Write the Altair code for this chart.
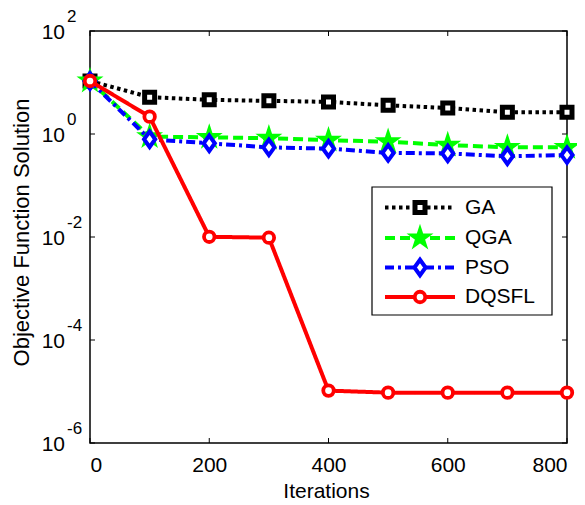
import altair as alt
import pandas as pd

# ---- data ----
iterations = [0, 100, 200, 300, 400, 500, 600, 700, 800]
ga = [10.7, 5.2, 4.6, 4.4, 4.2, 3.6, 3.2, 2.64, 2.64]
qga = [10.7, 0.89, 0.86, 0.83, 0.76, 0.71, 0.61, 0.55, 0.55]
pso = [10.7, 0.79, 0.66, 0.55, 0.52, 0.43, 0.42, 0.37, 0.39]
dqsfl = [10.7, 2.17, 0.0101, 0.0097, 1.04e-5, 9.5e-6, 9.5e-6, 9.5e-6, 9.5e-6]
series_names = ["GA", "QGA", "PSO", "DQSFL"]
x_ticks = [0, 200, 400, 600, 800]
y_decades = [1e2, 1e0, 1e-2, 1e-4, 1e-6]
y_exponents = ["2", "0", "-2", "-4", "-6"]

FONT = "Liberation Sans"
W, H = 477, 412

rows = []
for name, vals in zip(series_names, [ga, qga, pso, dqsfl]):
    for it, v in zip(iterations, vals):
        rows.append({"series": name, "iteration": it, "value": v})
df = pd.DataFrame(rows)
xt_df = pd.DataFrame({"t": x_ticks})
yt_df = pd.DataFrame({"v": y_decades, "e": y_exponents})

STAR = ("M0,-1L0.2245,-0.309L0.951,-0.309L0.363,0.118L0.588,0.809L0,0.382"
        "L-0.588,0.809L-0.363,0.118L-0.951,-0.309L-0.2245,-0.309Z")
DIAMOND = "M0,-1L0.72,0L0,1L-0.72,0Z"

styles = {
    "GA": dict(color="#000000", dash=[3.5, 3.5], shape="square", size=100,
               fill="#ffffff", sw=5),
    "QGA": dict(color="#00ff00", dash=[10, 5], shape=STAR, size=480,
                fill="#00ff00", sw=2),
    "PSO": dict(color="#0000ff", dash=[9, 4, 3, 4], shape=DIAMOND, size=240,
                fill="#ffffff", sw=4),
    "DQSFL": dict(color="#ff0000", dash=[1, 0], shape="circle", size=110,
                  fill="#ffffff", sw=3.8),
}

xscale = alt.Scale(domain=[0, 800], nice=False)
yscale = alt.Scale(type="log", domain=[1e-6, 1e2], nice=False)
xaxis = alt.Axis(values=x_ticks, ticks=False, domain=False, grid=False,
                 labelFont=FONT, labelFontSize=21, labelColor="black",
                 labelBaseline="alphabetic", labelPadding=28,
                 title="Iterations", titleFont=FONT, titleFontSize=21,
                 titleFontWeight="normal", titleColor="black",
                 titleX=236, titleY=54, titleBaseline="alphabetic",
                 titleAlign="center")
yaxis = alt.Axis(values=y_decades, ticks=False, domain=False, grid=False,
                 labels=False, title="Objective Function Solution",
                 titleFont=FONT, titleFontSize=22, titleFontWeight="normal",
                 titleColor="black", titleX=-62, titleY=201, titleAngle=270,
                 titleBaseline="alphabetic", titleAlign="center")


def X(field):
    return alt.X(field, type="quantitative", scale=xscale, axis=xaxis)


def Y(field):
    return alt.Y(field, type="quantitative", scale=yscale, axis=yaxis)


layers = []
# inward ticks
layers.append(alt.Chart(xt_df).mark_rule(color="black", strokeWidth=1)
              .encode(x=X("t"), y=alt.value(H), y2=alt.value(H - 5)))
layers.append(alt.Chart(xt_df).mark_rule(color="black", strokeWidth=1)
              .encode(x=X("t"), y=alt.value(0), y2=alt.value(5)))
layers.append(alt.Chart(yt_df).mark_rule(color="black", strokeWidth=1)
              .encode(y=Y("v"), x=alt.value(0), x2=alt.value(5)))
layers.append(alt.Chart(yt_df).mark_rule(color="black", strokeWidth=1)
              .encode(y=Y("v"), x=alt.value(W), x2=alt.value(W - 5)))
# y tick labels 10^n
layers.append(alt.Chart(yt_df).mark_text(text="10", align="right",
                                         baseline="alphabetic", dy=8,
                                         font=FONT, fontSize=21, color="black")
              .encode(y=Y("v"), x=alt.value(-25)))
layers.append(alt.Chart(yt_df).mark_text(align="left", baseline="alphabetic",
                                         dy=-9, font=FONT, fontSize=17,
                                         color="black")
              .encode(y=Y("v"), x=alt.value(-23), text="e:N"))

for name in series_names:
    s = styles[name]
    sub = alt.Chart(df).transform_filter(alt.datum.series == name)
    layers.append(sub.mark_line(color=s["color"], strokeWidth=4,
                                strokeDash=s["dash"], strokeCap="butt")
                  .encode(x=X("iteration"), y=Y("value")))
    layers.append(sub.mark_point(shape=s["shape"], size=s["size"],
                                 stroke=s["color"], fill=s["fill"],
                                 filled=False, fillOpacity=1, opacity=1,
                                 strokeWidth=s["sw"])
                  .encode(x=X("iteration"), y=Y("value")))

# legend
one = pd.DataFrame({"k": [0]})
layers.append(alt.Chart(one).mark_rect(fill="white", stroke="black",
                                       strokeWidth=1.2)
              .encode(x=alt.value(282), x2=alt.value(462),
                      y=alt.value(156), y2=alt.value(284)))
leg_y = [176.5, 207, 236.5, 266]
for name, ly in zip(series_names, leg_y):
    s = styles[name]
    layers.append(alt.Chart(one).mark_rule(color=s["color"], strokeWidth=4,
                                           strokeDash=s["dash"], strokeCap="butt")
                  .encode(x=alt.value(295), x2=alt.value(365), y=alt.value(ly)))
    layers.append(alt.Chart(one).mark_point(shape=s["shape"], size=s["size"],
                                            stroke=s["color"], fill=s["fill"],
                                            filled=False, fillOpacity=1,
                                            opacity=1, strokeWidth=s["sw"])
                  .encode(x=alt.value(330), y=alt.value(ly)))
    layers.append(alt.Chart(one).mark_text(text=name, align="left",
                                           baseline="middle", font=FONT,
                                           fontSize=21, color="black")
                  .encode(x=alt.value(375), y=alt.value(ly)))

chart = (alt.layer(*layers)
         .properties(width=W, height=H,
                     padding={"left": 82, "top": 23, "right": 10, "bottom": 58},
                     autosize=alt.AutoSizeParams(type="none"),
                     background="white")
         .configure_view(stroke="black", strokeWidth=1.5))

chart.save("out.html", embed_options={"renderer": "svg", "actions": False})
